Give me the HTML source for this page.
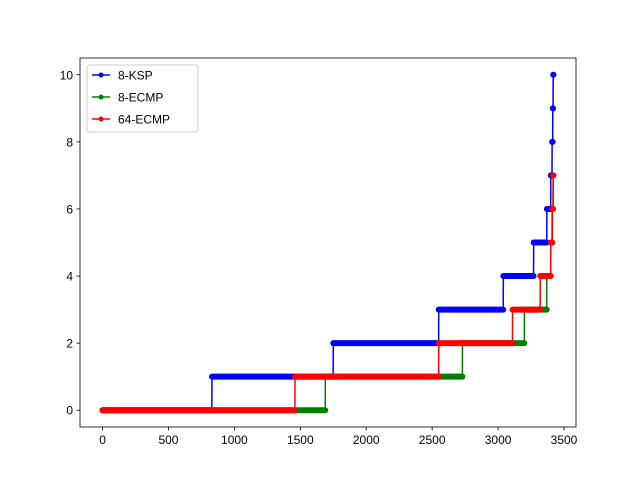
<!DOCTYPE html>
<html><head><meta charset="utf-8"><style>
body{margin:0;background:#fff}
svg text{font-family:"Liberation Sans","DejaVu Sans",sans-serif;font-size:12px;fill:#000}
</style></head><body>
<svg id="c" width="640" height="480"></svg>
<script>
const seriesNames=["8-KSP","8-ECMP","64-ECMP"];
const seriesColors=["#0000ff","#008000","#ff0000"];
// index at which each series' value steps up to 1,2,3,...
const kspSteps=[830,1750,2550,3040,3270,3370,3400,3410,3415,3418];
const ecmpSteps=[1690,2730,3200,3370,3400,3410,3418];
const ecmp64Steps=[1460,2550,3110,3320,3400,3412,3418];
const seriesEnd=[3421,3421,3421];
const xTicks=[0,500,1000,1500,2000,2500,3000,3500];
const yTicks=[0,2,4,6,8,10];
const steps=[kspSteps,ecmpSteps,ecmp64Steps];

const NS="http://www.w3.org/2000/svg";
const svg=document.getElementById('c');
const L=80,R=576,T=58,B=427;
const xmin=-171,xmax=3591,ymin=-0.5,ymax=10.5;
const X=v=>L+(v-xmin)/(xmax-xmin)*(R-L);
const Y=v=>B-(v-ymin)/(ymax-ymin)*(B-T);
function mk(t,a){const e=document.createElementNS(NS,t);for(const k in a)e.setAttribute(k,a[k]);svg.appendChild(e);return e;}

steps.forEach((st,si)=>{
  const g=document.createElementNS(NS,'g');svg.appendChild(g);
  
  
  let d='';
  const bounds=[0,...st,seriesEnd[si]];
  for(let k=0;k<bounds.length-1;k++){
    const a=bounds[k],b=bounds[k+1]-1;
    d+=(k===0?'M':'L')+X(a)+','+Y(k)+'L'+X(b)+','+Y(k);
    const r=document.createElementNS(NS,'rect');
    r.setAttribute('x',X(a)-3);r.setAttribute('y',Y(k)-3);
    r.setAttribute('width',X(b)-X(a)+6);r.setAttribute('height',6);
    r.setAttribute('rx',3);r.setAttribute('fill',seriesColors[si]);
    
    
    g.appendChild(r);
  }
  const p=document.createElementNS(NS,'path');
  p.setAttribute('d',d);p.setAttribute('fill','none');p.setAttribute('stroke',seriesColors[si]);p.setAttribute('stroke-width',1.5);
  
  
  g.insertBefore(p,g.firstChild);
});

const frame=mk('rect',{x:L,y:T,width:R-L,height:B-T,fill:'none',stroke:'#000','stroke-width':0.8});


xTicks.forEach(v=>{
  mk('line',{x1:X(v),x2:X(v),y1:B,y2:B+3.5,stroke:'#000','stroke-width':0.8});
  const t=mk('text',{x:X(v),y:B+17,'text-anchor':'middle'});t.textContent=v;
  
  
});
yTicks.forEach(v=>{
  mk('line',{x1:L-3.5,x2:L,y1:Y(v),y2:Y(v),stroke:'#000','stroke-width':0.8});
  const t=mk('text',{x:L-7,y:Y(v)+4.5,'text-anchor':'end'});t.textContent=v;
  
  
});
const lg=mk('rect',{x:87,y:65,width:111,height:67,rx:3,fill:'#fff','fill-opacity':0.8,stroke:'#ccc'});


seriesNames.forEach((n,i)=>{
  const y=75+i*22;
  mk('line',{x1:92,x2:110,y1:y,y2:y,stroke:seriesColors[i],'stroke-width':1.5});
  mk('circle',{cx:101,cy:y,r:2.5,fill:seriesColors[i]});
  const t=mk('text',{x:118,y:y+4.5});t.textContent=n;
  
  
});
</script>
</body></html>
